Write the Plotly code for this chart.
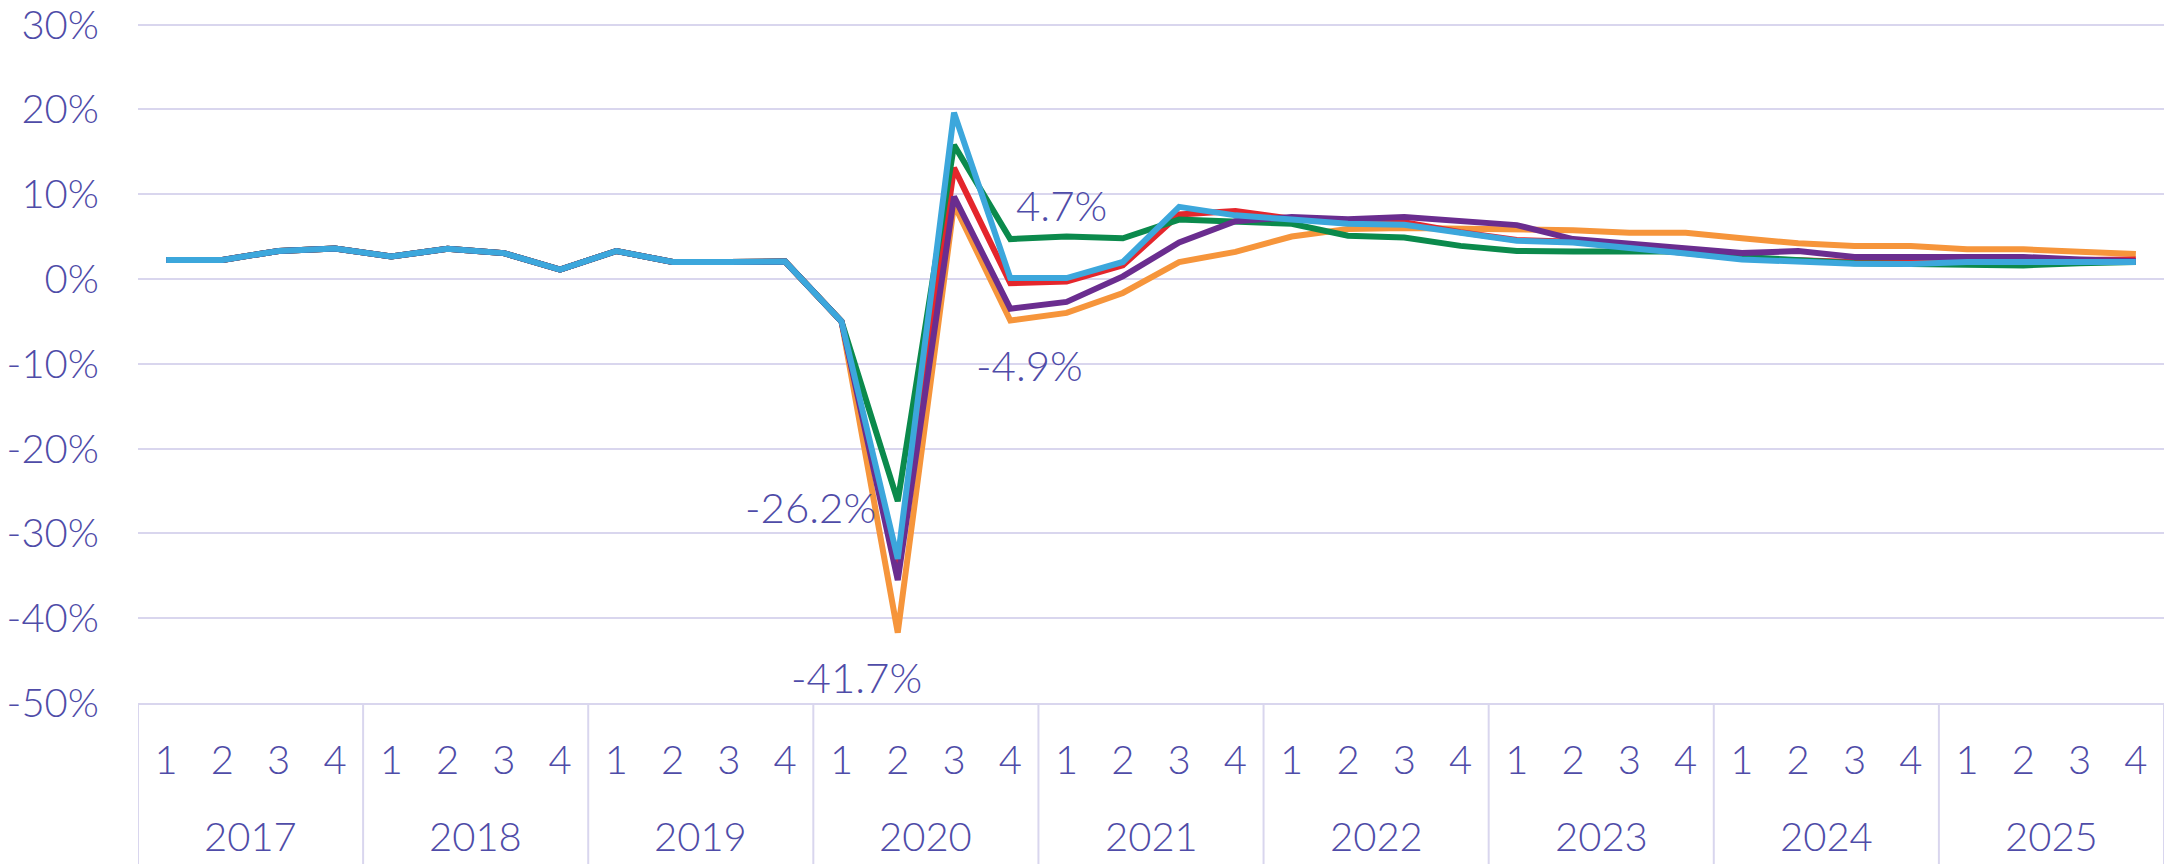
import plotly.graph_objects as go

# ---- data ----
years = ["2017", "2018", "2019", "2020", "2021", "2022", "2023", "2024", "2025"]
quarters = ["1", "2", "3", "4"]

pre_covid = [2.25, 2.25, 3.3, 3.6, 2.65, 3.55, 3.05, 1.1, 3.3, 2.0, 2.0, 2.05]

green_2020on = [-5.0, -26.2, 15.8, 4.7,
                5.0, 4.8, 7.0, 6.8,
                6.5, 5.1, 4.9, 3.9,
                3.3, 3.25, 3.25, 3.25,
                2.6, 2.3, 1.85, 1.75,
                1.6, 1.6, 1.85, 2.0]
red_2020on = [-5.0, -34.3, 13.1, -0.5,
              -0.3, 1.6, 7.6, 8.0,
              7.1, 6.7, 6.7, 5.5,
              4.6, 4.4, 3.7, 3.0,
              2.4, 2.2, 2.0, 2.0,
              2.2, 2.2, 2.2, 2.3]
purple_2020on = [-5.0, -35.5, 9.7, -3.5,
                 -2.7, 0.3, 4.3, 6.8,
                 7.3, 7.05, 7.3, 6.9,
                 6.35, 4.7, 4.1, 3.65,
                 3.05, 3.3, 2.6, 2.6,
                 2.6, 2.6, 2.3, 2.1]
orange_2020on = [-5.0, -41.7, 8.8, -4.9,
                 -4.0, -1.65, 2.0, 3.2,
                 5.0, 5.9, 6.0, 5.9,
                 5.75, 5.75, 5.45, 5.45,
                 4.8, 4.2, 3.9, 3.9,
                 3.5, 3.5, 3.2, 2.95]
blue_2020on = [-5.0, -33.0, 19.6, 0.1,
               0.1, 2.0, 8.5, 7.5,
               7.0, 6.5, 6.4, 5.4,
               4.5, 4.3, 3.7, 3.0,
               2.3, 2.05, 1.8, 1.75,
               2.0, 2.0, 2.0, 2.0]

green = pre_covid + green_2020on
red = pre_covid + red_2020on
purple = pre_covid + purple_2020on
orange = pre_covid + orange_2020on
blue = pre_covid + blue_2020on

y_tick_vals = [30, 20, 10, 0, -10, -20, -30, -40, -50]
y_tick_text = ["30%", "20%", "10%", "0%", "-10%", "-20%", "-30%", "-40%", "-50%"]

# ---- styling ----
TEXT = "#4f4ca8"
GRID = "#d9d6ee"
FONT = "Lato, 'Noto Sans', sans-serif"
FSIZE = 40

n_q = len(quarters)
x_idx = list(range(len(years) * n_q))
x_ticktext = [q for _ in years for q in quarters]

series = [
    ("orange", orange, "#f6953b"),
    ("red", red, "#e4262c"),
    ("green", green, "#0b8a4c"),
    ("purple", purple, "#6a2d8f"),
    ("blue", blue, "#3ca7dc"),
]

fig = go.Figure()
for name, vals, col in series:
    fig.add_trace(go.Scatter(
        x=x_idx, y=vals, mode="lines", name=name,
        line=dict(color=col, width=6), showlegend=False,
    ))


def pct(v):
    return f"{v:.1f}%"


annos = [
    (15, green[15], 51, 34),
    (15, orange[15], 19, -44),
    (13, green[13], -87, -6),
    (13, orange[13], -41, -44),
]
for xi, v, dx, dy in annos:
    fig.add_annotation(
        x=xi, y=v, xref="x", yref="y", text=pct(v), showarrow=False,
        xshift=dx, yshift=dy, xanchor="center", yanchor="middle",
        font=dict(family=FONT, size=42, color=TEXT, weight=300),
    )

# layout geometry
TOP, BOTTOM = 22, 161
plot_h = 864 - TOP - BOTTOM
box_bottom = -BOTTOM / plot_h

# year group labels and group dividers of the two-level category axis
for i, yr in enumerate(years):
    fig.add_annotation(
        x=i * n_q + (n_q - 1) / 2, y=0, xref="x", yref="paper", text=yr,
        showarrow=False, yshift=-133, yanchor="middle", xanchor="center",
        font=dict(family=FONT, size=FSIZE, color=TEXT, weight=300),
    )
for i in range(len(years) + 1):
    fig.add_shape(
        type="line", xref="x", yref="paper",
        x0=i * n_q - 0.5, x1=i * n_q - 0.5, y0=0, y1=box_bottom,
        line=dict(color=GRID, width=2), layer="below",
    )

fig.update_layout(
    width=2168, height=864,
    margin=dict(l=138, r=4, t=TOP, b=BOTTOM),
    plot_bgcolor="white", paper_bgcolor="white",
    font=dict(family=FONT, size=FSIZE, color=TEXT),
)
fig.update_xaxes(
    range=[-0.5, len(x_idx) - 0.5], tickvals=x_idx, ticktext=x_ticktext,
    showgrid=False, showline=True, linecolor=GRID, linewidth=2, zeroline=False,
    ticks="", automargin=False, ticklabelstandoff=21, ticklabeloverflow="allow",
    tickfont=dict(family=FONT, size=FSIZE, color=TEXT, weight=300),
)
fig.update_yaxes(
    range=[-50, 30.3], tickvals=y_tick_vals, ticktext=y_tick_text,
    showgrid=True, gridcolor=GRID, gridwidth=2, zeroline=False,
    showline=False, ticks="", ticklabelstandoff=38, automargin=False,
    ticklabeloverflow="allow",
    tickfont=dict(family=FONT, size=FSIZE, color=TEXT, weight=300),
)

fig.write_html("out.html", config={"displayModeBar": False},
               post_script="document.body.style.margin='0';")
